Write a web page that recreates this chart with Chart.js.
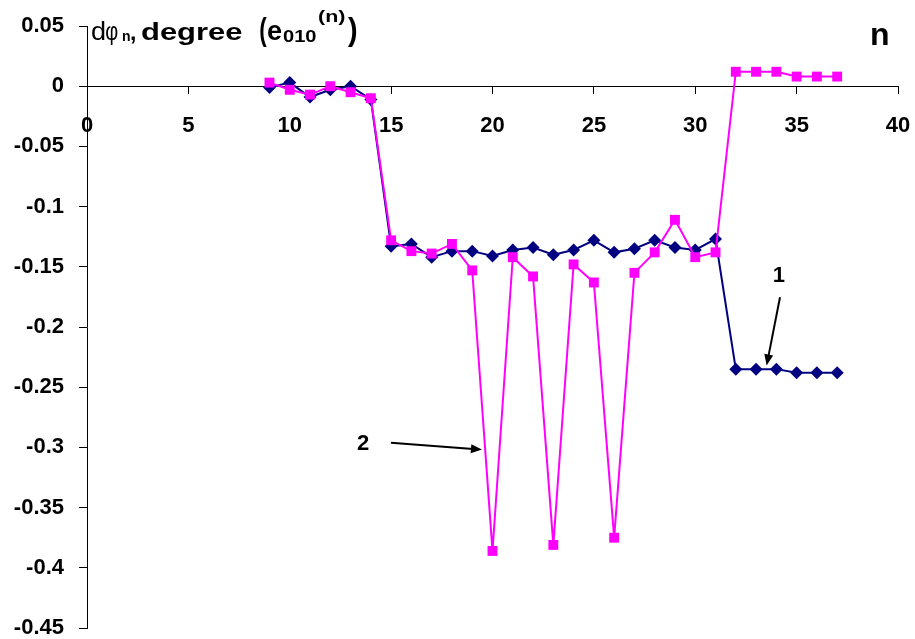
<!DOCTYPE html>
<html>
<head>
<meta charset="utf-8">
<script src="https://cdn.jsdelivr.net/npm/chart.js@4"></script>
<style>
  html, body { margin: 0; padding: 0; background: #fff; }
  canvas { display: block; }
</style>
</head>
<body>
<canvas id="phaseChart" width="915" height="639"></canvas>
<script>
// n の値
const nValues = [9, 10, 11, 12, 13, 14, 15, 16, 17, 18, 19, 20, 21, 22, 23, 24, 25, 26, 27, 28, 29, 30, 31, 32, 33, 34, 35, 36, 37]

// 曲線 1 (紺・ひし形)
const curve1 = [-0.001, 0.003, -0.009, -0.003, 0.000, -0.011,
  -0.133, -0.131, -0.142, -0.137, -0.137, -0.141, -0.136, -0.134, -0.140, -0.136, -0.128, -0.138, -0.135, -0.128, -0.134, -0.136, -0.127,
  -0.235, -0.235, -0.235, -0.238, -0.238, -0.238]

// 曲線 2 (マゼンタ・四角)
const curve2 = [0.003, -0.003, -0.007, 0.000, -0.005, -0.010,
  -0.128, -0.137, -0.139, -0.131, -0.153, -0.386, -0.142, -0.158, -0.381, -0.148, -0.163, -0.375, -0.155, -0.138, -0.111, -0.142, -0.138,
  0.012, 0.012, 0.012, 0.008, 0.008, 0.008]

// 目盛り
const yTickValues = [0.05, 0, -0.05, -0.1, -0.15, -0.2, -0.25, -0.3, -0.35, -0.4, -0.45]
const yTickLabels = ['0.05', '0', '-0.05', '-0.1', '-0.15', '-0.2', '-0.25', '-0.3', '-0.35', '-0.4', '-0.45']

// 曲線番号の注記 (データ座標)
const curveNotes = [
  { text: '1', at: [34.13, -0.1626], from: [34.18, -0.1753], to: [33.52, -0.2320] },
  { text: '2', at: [13.62, -0.3023], from: [14.99, -0.2962], to: [19.48, -0.3018] }
]

const toPoints = (ys) => nValues.map((n, i) => ({ x: n, y: ys[i] }))
const tickFont = { family: "'Liberation Sans', Arial, sans-serif", size: 22, weight: 'bold' }

// ラベル分の余白を取らせない
const noPadding = (scale) => {
  scale.paddingLeft = 0
  scale.paddingRight = 0
  scale.paddingTop = 0
  scale.paddingBottom = 0
}

// 横方向に伸ばして文字をはめ込む
const fitText = (ctx, text, font, x0, x1, base) => {
  ctx.save()
  ctx.font = font
  ctx.textAlign = 'left'
  ctx.textBaseline = 'alphabetic'
  const m = ctx.measureText(text)
  const ink = m.actualBoundingBoxLeft + m.actualBoundingBoxRight
  const sx = (x1 - x0) / ink
  ctx.translate(x0 + m.actualBoundingBoxLeft * sx, base)
  ctx.scale(sx, 1)
  ctx.fillText(text, 0, 0)
  ctx.restore()
}

const annotations = {
  id: 'annotations',
  afterDraw(chart) {
    const ctx = chart.ctx
    const xs = chart.scales.x
    const ys = chart.scales.y
    ctx.save()
    ctx.fillStyle = '#000'
    ctx.strokeStyle = '#000'

    // 縦軸タイトル
    const F = "'Liberation Sans', Arial, sans-serif"
    fitText(ctx, 'd', `25px ${F}`, 92, 105, 40)
    fitText(ctx, 'φ', `25px ${F}`, 106, 118, 40)
    fitText(ctx, 'n', `bold 14px ${F}`, 122, 130, 41)
    fitText(ctx, ',', `bold 23px ${F}`, 131, 135, 40)
    fitText(ctx, 'degree', `bold 24px ${F}`, 141, 242, 40)
    fitText(ctx, '(', `bold 32px ${F}`, 260, 267, 40)
    fitText(ctx, 'e', `bold 27px ${F}`, 268, 282, 40)
    fitText(ctx, '010', `bold 17px ${F}`, 283, 316, 42)
    fitText(ctx, '(n)', `bold 16px ${F}`, 318, 345, 22)
    fitText(ctx, ')', `bold 32px ${F}`, 348, 357, 40)

    // 横軸タイトル
    fitText(ctx, 'n', `bold 32px ${F}`, 872, 888, 45)

    // 曲線番号と矢印
    curveNotes.forEach((note) => {
      ctx.font = `bold 22px ${F}`
      ctx.textAlign = 'center'
      ctx.textBaseline = 'alphabetic'
      ctx.fillText(note.text, xs.getPixelForValue(note.at[0]), ys.getPixelForValue(note.at[1]))

      const x1 = xs.getPixelForValue(note.from[0])
      const y1 = ys.getPixelForValue(note.from[1])
      const x2 = xs.getPixelForValue(note.to[0])
      const y2 = ys.getPixelForValue(note.to[1])
      const ang = Math.atan2(y2 - y1, x2 - x1)
      const head = 11
      const half = 4.5
      ctx.lineWidth = 2
      ctx.beginPath()
      ctx.moveTo(x1, y1)
      ctx.lineTo(x2 - Math.cos(ang) * head * 0.8, y2 - Math.sin(ang) * head * 0.8)
      ctx.stroke()
      ctx.beginPath()
      ctx.moveTo(x2, y2)
      ctx.lineTo(x2 - Math.cos(ang) * head - Math.sin(ang) * half, y2 - Math.sin(ang) * head + Math.cos(ang) * half)
      ctx.lineTo(x2 - Math.cos(ang) * head + Math.sin(ang) * half, y2 - Math.sin(ang) * head - Math.cos(ang) * half)
      ctx.closePath()
      ctx.fill()
    })
    ctx.restore()
  }
}

document.addEventListener('DOMContentLoaded', () => {
  const canvas = document.querySelector('#phaseChart')
  if (!canvas) return

  new Chart(canvas, {
    type: 'line',
    data: {
      datasets: [
        {
          label: '2',
          data: toPoints(curve2),
          borderColor: '#ff00ff',
          backgroundColor: '#ff00ff',
          borderWidth: 2,
          pointStyle: 'rect',
          pointRadius: 7,
          pointBorderWidth: 0,
          pointBackgroundColor: '#ff00ff',
          tension: 0
        },
        {
          label: '1',
          data: toPoints(curve1),
          borderColor: '#000080',
          backgroundColor: '#000080',
          borderWidth: 2,
          pointStyle: 'rectRot',
          pointRadius: 6.5,
          pointBorderWidth: 0,
          pointBackgroundColor: '#000080',
          tension: 0
        }
      ]
    },
    options: {
      responsive: false,
      animation: false,
      layout: { padding: { left: 0, top: 26, right: 17, bottom: 11 } },
      plugins: {
        legend: { display: false },
        tooltip: { enabled: false }
      },
      scales: {
        x: {
          type: 'linear',
          position: { y: 0 },
          min: 0,
          max: 40,
          afterFit: (scale) => { scale.height = 0; noPadding(scale) },
          grid: { drawOnChartArea: false, drawTicks: true, tickLength: 7, color: '#000' },
          border: { color: '#000', width: 1 },
          ticks: { stepSize: 5, padding: 20, color: '#000', font: tickFont, maxRotation: 0, autoSkip: false }
        },
        y: {
          min: -0.45,
          max: 0.05,
          afterFit: (scale) => { scale.width = 87; noPadding(scale) },
          grid: { drawOnChartArea: false, drawTicks: true, tickLength: 8, color: '#000' },
          border: { color: '#000', width: 1 },
          ticks: {
            stepSize: 0.05,
            padding: 15,
            color: '#000',
            font: tickFont,
            callback: (v) => {
              const i = yTickValues.findIndex((t) => Math.abs(t - v) < 1e-9)
              return i < 0 ? '' : yTickLabels[i]
            }
          }
        }
      }
    },
    plugins: [annotations]
  })
})
</script>
</body>
</html>
